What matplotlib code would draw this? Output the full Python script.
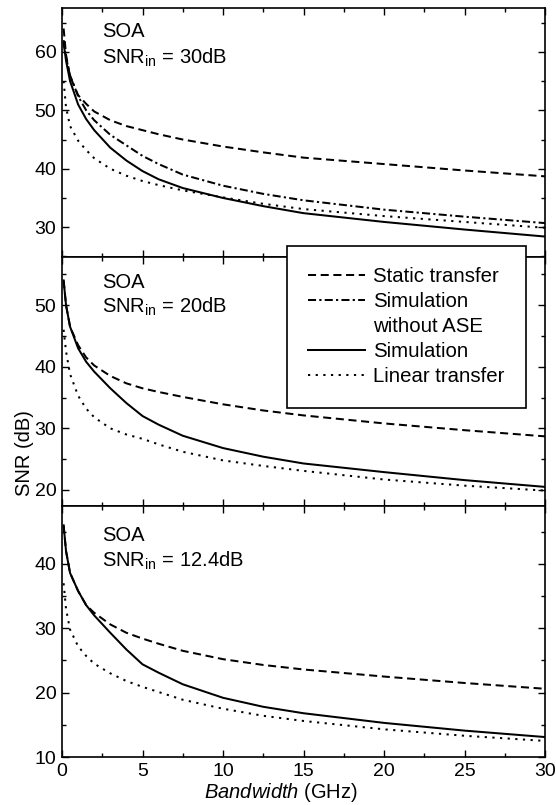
import matplotlib
matplotlib.use("Agg")
import matplotlib.pyplot as plt
from matplotlib.lines import Line2D
from matplotlib.ticker import MultipleLocator

plt.rcParams['font.family'] = ['Liberation Sans', 'DejaVu Sans']
plt.rcParams['mathtext.fontset'] = 'custom'
plt.rcParams['mathtext.rm'] = 'Liberation Sans'
plt.rcParams['mathtext.it'] = 'Liberation Sans:italic'
plt.rcParams['mathtext.default'] = 'regular'

# ---- data (bandwidth in GHz, SNR in dB) ----
bandwidth = [0.1, 0.25, 0.5, 1, 1.5, 2, 3, 4, 5, 6, 7.5, 10, 12.5, 15, 20, 25, 30]

# SNR_in = 30 dB
static_30 = [64.0, 59.5, 55.8, 52.6, 51.1, 49.8, 48.3, 47.3, 46.6, 45.9, 45.0, 43.8, 42.8, 41.9, 40.8, 39.7, 38.7]
noase_30 = [62.0, 59.0, 56.0, 52.4, 50.0, 48.3, 45.8, 44.0, 42.2, 40.8, 39.0, 37.1, 35.7, 34.6, 33.0, 31.8, 30.7]
sim_30 = [61.5, 58.5, 55.0, 51.0, 48.5, 46.6, 43.6, 41.4, 39.6, 38.2, 36.7, 35.0, 33.6, 32.4, 30.9, 29.6, 28.4]
linear_30 = [55.0, 50.5, 47.3, 44.8, 43.2, 41.8, 40.0, 38.8, 37.9, 37.2, 36.3, 35.1, 34.0, 33.1, 31.9, 30.9, 29.9]

# SNR_in = 20 dB
static_20 = [54.0, 50.0, 46.5, 43.5, 41.5, 40.2, 38.5, 37.3, 36.5, 35.9, 35.1, 33.9, 32.9, 32.1, 30.8, 29.7, 28.7]
sim_20 = [54.0, 50.0, 46.5, 43.0, 40.8, 39.2, 36.5, 34.1, 32.0, 30.6, 28.8, 26.8, 25.4, 24.3, 22.9, 21.6, 20.5]
linear_20 = [46.0, 42.5, 38.8, 35.3, 33.2, 31.8, 30.0, 29.0, 28.3, 27.4, 26.2, 24.8, 23.9, 23.1, 21.7, 20.7, 19.9]

# SNR_in = 12.4 dB
static_12 = [46.0, 42.0, 38.6, 35.8, 33.6, 32.4, 30.6, 29.3, 28.4, 27.6, 26.5, 25.2, 24.3, 23.6, 22.5, 21.5, 20.6]
sim_12 = [46.0, 42.0, 38.6, 35.8, 33.6, 32.0, 29.3, 26.7, 24.4, 23.1, 21.3, 19.2, 17.8, 16.8, 15.3, 14.1, 13.1]
linear_12 = [37.0, 33.0, 29.8, 27.2, 25.7, 24.5, 23.0, 21.8, 20.9, 20.1, 18.9, 17.5, 16.4, 15.6, 14.3, 13.3, 12.5]

panel_titles = ["30dB", "20dB", "12.4dB"]
legend_labels = ["Static transfer", "Simulation", "without ASE", "Simulation", "Linear transfer"]

# ---- styles ----
LW = 1.45
STY_STATIC = dict(color='black', lw=LW, linestyle=(0, (4.0, 2.3)))
STY_NOASE = dict(color='black', lw=LW, linestyle=(0, (4.0, 1.6, 1.1, 1.6)))
STY_SIM = dict(color='black', lw=LW, linestyle='-')
STY_LIN = dict(color='black', lw=LW, linestyle=(0, (1.1, 2.7)))

W, H = 556, 805
fig = plt.figure(figsize=(W / 100, H / 100), dpi=100)

left = 62 / W
width = (545 - 62) / W

def axes_px(top, bottom):
    return [left, 1 - bottom / H, width, (bottom - top) / H]

ax1 = fig.add_axes(axes_px(8, 257))
ax2 = fig.add_axes(axes_px(257, 506))
ax3 = fig.add_axes(axes_px(506, 757))

ax1.plot(bandwidth, static_30, **STY_STATIC)
ax1.plot(bandwidth, noase_30, **STY_NOASE)
ax1.plot(bandwidth, sim_30, **STY_SIM)
ax1.plot(bandwidth, linear_30, **STY_LIN)

ax2.plot(bandwidth, static_20, **STY_STATIC)
ax2.plot(bandwidth, sim_20, **STY_SIM)
ax2.plot(bandwidth, linear_20, **STY_LIN)

ax3.plot(bandwidth, static_12, **STY_STATIC)
ax3.plot(bandwidth, sim_12, **STY_SIM)
ax3.plot(bandwidth, linear_12, **STY_LIN)

ax1.set_ylim(24.9, 67.5)
ax2.set_ylim(17.4, 57.8)
ax3.set_ylim(10, 49)
ax1.set_yticks([30, 40, 50, 60])
ax2.set_yticks([20, 30, 40, 50])
ax3.set_yticks([10, 20, 30, 40])

FS = 14.5
for ax in (ax1, ax2, ax3):
    ax.set_xlim(0, 30)
    ax.xaxis.set_major_locator(MultipleLocator(5))
    ax.xaxis.set_minor_locator(MultipleLocator(2.5))
    ax.yaxis.set_minor_locator(MultipleLocator(5))
    ax.tick_params(which='both', direction='in', top=True, right=True, width=1.0)
    ax.tick_params(which='major', length=5, labelsize=14, pad=4)
    ax.tick_params(which='minor', length=3)
    for sp in ax.spines.values():
        sp.set_linewidth(1.2)
ax1.tick_params(labelbottom=False)
ax2.tick_params(labelbottom=False)

# panel annotations (baseline positions in axes fraction)
ann = [(ax1, 0.882, 0.778), (ax2, 0.877, 0.776), (ax3, 0.862, 0.758)]
for (ax, y1, y2), t in zip(ann, panel_titles):
    ax.text(0.083, y1, "SOA", transform=ax.transAxes, fontsize=FS, va='baseline', ha='left')
    ax.text(0.083, y2, "SNR$_{in}$ = " + t, transform=ax.transAxes, fontsize=FS, va='baseline', ha='left')

fig.text(24 / W, 1 - 453 / H, "SNR (dB)", rotation=90, fontsize=FS, ha='center', va='center')
fig.text(281 / W, 1 - 792 / H, r"$\mathit{Bandwidth}$ (GHz)", fontsize=FS, ha='center', va='center')

handles = [Line2D([], [], **STY_STATIC), Line2D([], [], **STY_NOASE),
           Line2D([], [], linestyle='none'), Line2D([], [], **STY_SIM),
           Line2D([], [], **STY_LIN)]
leg = fig.legend(handles, legend_labels, loc='upper left',
                 bbox_to_anchor=(287 / W, 1 - 246 / H), bbox_transform=fig.transFigure,
                 borderaxespad=0, fontsize=14.7, frameon=True, fancybox=False,
                 edgecolor='black', framealpha=1, handlelength=2.75, handletextpad=0.4,
                 labelspacing=0.29, borderpad=1.05)
leg.get_frame().set_linewidth(1.2)

fig.savefig("out.png", dpi=100)
